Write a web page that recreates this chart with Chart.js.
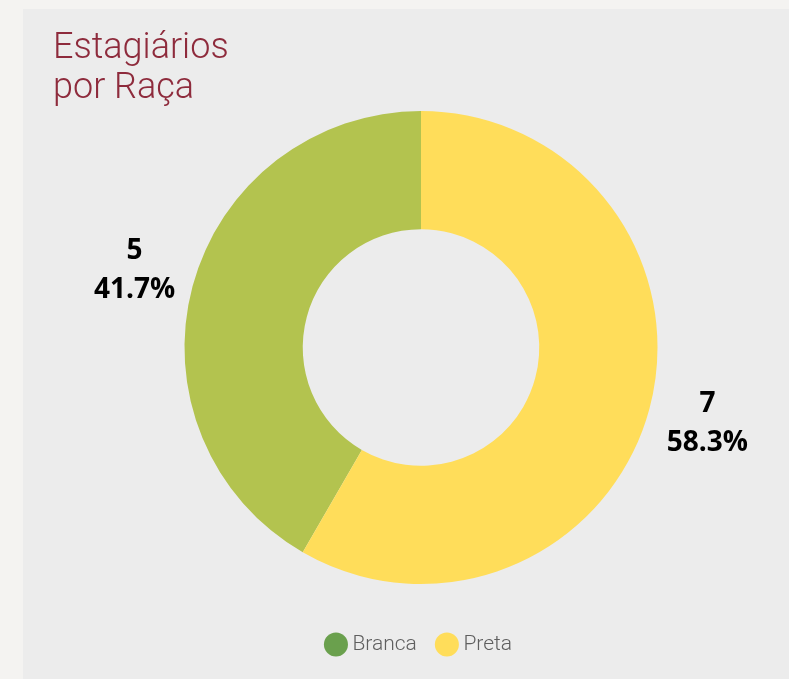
<!DOCTYPE html>
<html>
<head>
<meta charset="utf-8">
<script src="https://cdn.jsdelivr.net/npm/chart.js@4"></script>
<style>
  html, body { margin: 0; padding: 0; background: #f4f3f1; }
  #panel {
    position: absolute; left: 23px; top: 9px; width: 766px; height: 670px;
    background: #ececec;
  }
  #title {
    position: absolute; left: 30px; top: 17px; margin: 0;
    font-family: Roboto, sans-serif; font-weight: 300; font-size: 36px;
    line-height: 40px; color: #8e2b3c;
  }
  #wrap { position: absolute; left: 0; top: 0; width: 766px; height: 670px; }
</style>
</head>
<body>
<div id="panel">
  <div id="wrap"><canvas id="racaChart"></canvas></div>
  <h1 id="title">Estagiários<br>por Raça</h1>
</div>
<script>
const categories = ['Branca', 'Preta'];
const counts = [5, 7];
const sliceColors = ['#b3c34f', '#ffdd5a'];
const legendColors = ['#6aa04d', '#ffdd5a'];

const outsideLabels = {
  id: 'outsideLabels',
  afterDatasetsDraw(chart) {
    const ctx = chart.ctx;
    const total = counts.reduce((a, b) => a + b, 0);
    const meta = chart.getDatasetMeta(0);
    meta.data.forEach((arc, i) => {
      const p = arc.getProps(['x', 'y', 'startAngle', 'endAngle', 'outerRadius'], true);
      const mid = (p.startAngle + p.endAngle) / 2;
      const r = p.outerRadius + 60;
      const x = p.x + Math.cos(mid) * r;
      const y = p.y + Math.sin(mid) * r;
      ctx.save();
      ctx.fillStyle = '#000';
      ctx.font = 'bold 28px "Open Sans", sans-serif';
      ctx.textAlign = 'center';
      ctx.textBaseline = 'middle';
      ctx.fillText(String(counts[i]), x, y - 20);
      ctx.fillText((counts[i] / total * 100).toFixed(1) + '%', x, y + 19);
      ctx.restore();
    });
  }
};

const ctx = document.getElementById('racaChart').getContext('2d');
new Chart(ctx, {
  type: 'doughnut',
  data: {
    labels: categories,
    datasets: [{
      data: counts,
      backgroundColor: sliceColors,
      borderWidth: 0
    }]
  },
  options: {
    responsive: true,
    maintainAspectRatio: false,
    animation: false,
    rotation: 210,
    cutout: '50%',
    layout: { padding: { top: 102, left: 30, right: 0, bottom: 14 } },
    plugins: {
      tooltip: { enabled: false },
      legend: {
        position: 'bottom',
        title: { display: true, text: '', font: { size: 10 }, padding: { top: 14, bottom: 0 } },
        labels: {
          usePointStyle: true,
          pointStyle: 'circle',
          boxHeight: 17,
          boxWidth: 12,
          padding: 24,
          color: '#5f5f5f',
          font: { family: 'Roboto', size: 21, weight: '300' },
          generateLabels(chart) {
            const items = Chart.controllers.doughnut.overrides.plugins.legend.labels.generateLabels(chart);
            items.forEach((it, i) => { it.fillStyle = legendColors[i]; it.strokeStyle = legendColors[i]; it.lineWidth = 0; });
            return items;
          }
        }
      }
    }
  },
  plugins: [outsideLabels]
});
</script>
</body>
</html>
